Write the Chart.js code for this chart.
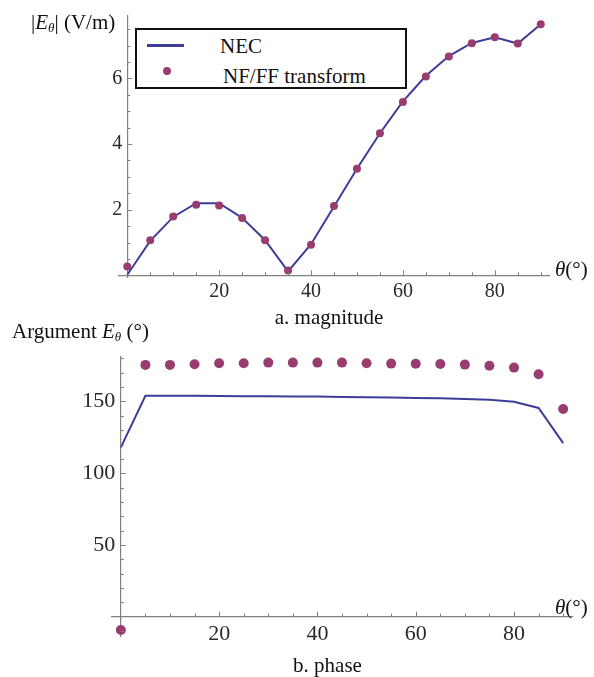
<!DOCTYPE html>
<html>
<head>
<meta charset="utf-8">
<script src="https://cdn.jsdelivr.net/npm/chart.js@4.4.1/dist/chart.umd.min.js"></script>
<style>
  body { margin: 0; background: #fff; }
  #wrap { position: relative; width: 594px; height: 677px; overflow: hidden; font-family: "Liberation Serif", "Times New Roman", serif; color: #111; }
  canvas { position: absolute; left: 0; }
  .txt { position: absolute; font-size: 21px; line-height: 21px; white-space: nowrap; }
  .it { font-style: italic; }
  sub { font-size: 13px; vertical-align: -3px; line-height: 0; }
  #legend { position: absolute; left: 135px; top: 28px; width: 272px; height: 61px; border: 2px solid #111; box-sizing: border-box; background: #fff; }
</style>
</head>
<body>
<div id="wrap">
  <canvas id="magChart" width="594" height="312" style="top:0"></canvas>
  <canvas id="phaseChart" width="594" height="377" style="top:300px"></canvas>

  <div class="txt" style="left:31px; top:12px">|<span class="it">E</span><sub class="it">θ</sub>| (V/m)</div>
  <div class="txt" style="left:555px; top:259px"><span class="it">θ</span>(°)</div>
  <div class="txt" style="left:0; width:658px; text-align:center; top:307px">a. magnitude</div>

  <div class="txt" style="left:12px; top:321px">Argument <span class="it">E</span><sub class="it">θ</sub> (°)</div>
  <div class="txt" style="left:555px; top:597px"><span class="it">θ</span>(°)</div>
  <div class="txt" style="left:0; width:655px; text-align:center; top:655px">b. phase</div>

  <div id="legend"></div>
  <div style="position:absolute; left:147px; top:43.5px; width:37px; height:3px; background:#3d3d99"></div>
  <div class="txt" style="left:220px; top:36px">NEC</div>
  <div style="position:absolute; left:162.5px; top:67px; width:8px; height:8px; border-radius:50%; background:#993d71"></div>
  <div class="txt" style="left:223px; top:66px">NF/FF transform</div>
</div>

<script>
// theta (deg)
const theta = [0, 5, 10, 15, 20, 25, 30, 35, 40, 45, 50, 55, 60, 65, 70, 75, 80, 85, 90];

// a. magnitude |E_theta| (V/m)
const magNEC  = [0.02, 1.05, 1.78, 2.2, 2.2, 1.75, 1.07, 0.12, 0.95, 2.1, 3.25, 4.33, 5.3, 6.08, 6.68, 7.08, 7.25, 7.06, 7.65];
const magNFFF = [0.27, 1.07, 1.79, 2.15, 2.13, 1.75, 1.07, 0.15, 0.93, 2.11, 3.25, 4.33, 5.28, 6.06, 6.67, 7.07, 7.25, 7.06, 7.65];

// b. phase, argument E_theta (deg)
const phaseNEC  = [118, 154, 154, 153.9, 153.8, 153.7, 153.6, 153.5, 153.4, 153.2, 153, 152.8, 152.5, 152.2, 151.8, 151.2, 149.8, 145.5, 121];
const phaseNFFF = [-9.3, 175.5, 175.5, 176, 176.7, 176.7, 177.1, 177.1, 177.1, 177.1, 176.7, 176.4, 176.3, 176.1, 175.7, 174.9, 173.6, 169.0, 144.8];

// tick labels
const xLabels = [20, 40, 60, 80];
const magLabels = [2, 4, 6];
const phaseLabels = [50, 100, 150];

const lineColor = '#3d3d99';
const dotColor = '#993d71';
const axisColor = '#808080';

const pts = (ys) => theta.map((t, i) => ({ x: t, y: ys[i] }));

// axes take no room in the layout, the chart area comes from the padding only
function noRoom(s) {
    if (s.isHorizontal()) s.height = 0; else s.width = 0;
    s.paddingTop = s.paddingBottom = s.paddingLeft = s.paddingRight = 0;
}

// small inward tick marks like the original axes
const tickMarks = {
    id: 'tickMarks',
    afterDraw(chart) {
        const ctx = chart.ctx;
        const xs = chart.scales.x, ys = chart.scales.y;
        const x0 = xs.getPixelForValue(0), y0 = ys.getPixelForValue(0);
        ctx.save();
        ctx.strokeStyle = axisColor;
        ctx.lineWidth = 1;
        ctx.beginPath();
        xs.ticks.forEach(t => {
            if (t.value === 0) return;
            const p = Math.round(xs.getPixelForValue(t.value)) + 0.5;
            const len = t.label !== '' ? 5 : 3;
            ctx.moveTo(p, y0);
            ctx.lineTo(p, y0 - len);
        });
        ys.ticks.forEach(t => {
            if (t.value === 0) return;
            const p = Math.round(ys.getPixelForValue(t.value)) + 0.5;
            const len = t.label !== '' ? 5 : 3;
            ctx.moveTo(x0, p);
            ctx.lineTo(x0 + len, p);
        });
        ctx.stroke();
        ctx.restore();
    }
};

function makeChart(id, nec, nfff, yMin, yMax, yStep, yLabels, pad, fontSize, dotR) {
    const font = { family: '"Liberation Serif", "Times New Roman", serif', size: fontSize };
    return new Chart(document.getElementById(id), {
        type: 'scatter',
        data: {
            datasets: [
                {
                    label: 'NF/FF transform',
                    data: pts(nfff),
                    showLine: false,
                    backgroundColor: dotColor,
                    borderWidth: 0,
                    pointRadius: dotR,
                    clip: false
                },
                {
                    label: 'NEC',
                    data: pts(nec),
                    showLine: true,
                    borderColor: lineColor,
                    borderWidth: 2,
                    tension: 0,
                    pointRadius: 0,
                    clip: false
                }
            ]
        },
        options: {
            responsive: false,
            animation: false,
            devicePixelRatio: 1,
            layout: { padding: pad },
            plugins: { legend: { display: false }, tooltip: { enabled: false } },
            scales: {
                x: {
                    type: 'linear',
                    min: -1.8,
                    max: 91.8,
                    position: { y: 0 },
                    afterFit: noRoom,
                    grid: { display: false },
                    border: { color: axisColor, width: 1.2 },
                    ticks: {
                        stepSize: 5,
                        includeBounds: false,
                        autoSkip: false,
                        maxRotation: 0,
                        padding: -4,
                        color: '#2a2a2a',
                        font: font,
                        callback: v => xLabels.includes(v) ? String(v) : ''
                    }
                },
                y: {
                    type: 'linear',
                    min: yMin,
                    max: yMax,
                    position: { x: 0 },
                    afterFit: noRoom,
                    grid: { display: false },
                    border: { color: axisColor, width: 1.2 },
                    ticks: {
                        stepSize: yStep,
                        includeBounds: false,
                        autoSkip: false,
                        padding: 0,
                        color: '#2a2a2a',
                        font: font,
                        // trailing space keeps the number clear of the axis
                        callback: v => yLabels.includes(v) ? String(v) + ' ' : ''
                    }
                }
            }
        },
        plugins: [tickMarks]
    });
}

makeChart('magChart', magNEC, magNFFF, -0.05, 7.9, 0.5, magLabels,
    { left: 119, right: 45, top: 16, bottom: 35 }, 20, 4);

makeChart('phaseChart', phaseNEC, phaseNFFF, -13.5, 181, 10, phaseLabels,
    { left: 112, right: 22, top: 57, bottom: 41 }, 22, 5);
</script>
</body>
</html>
